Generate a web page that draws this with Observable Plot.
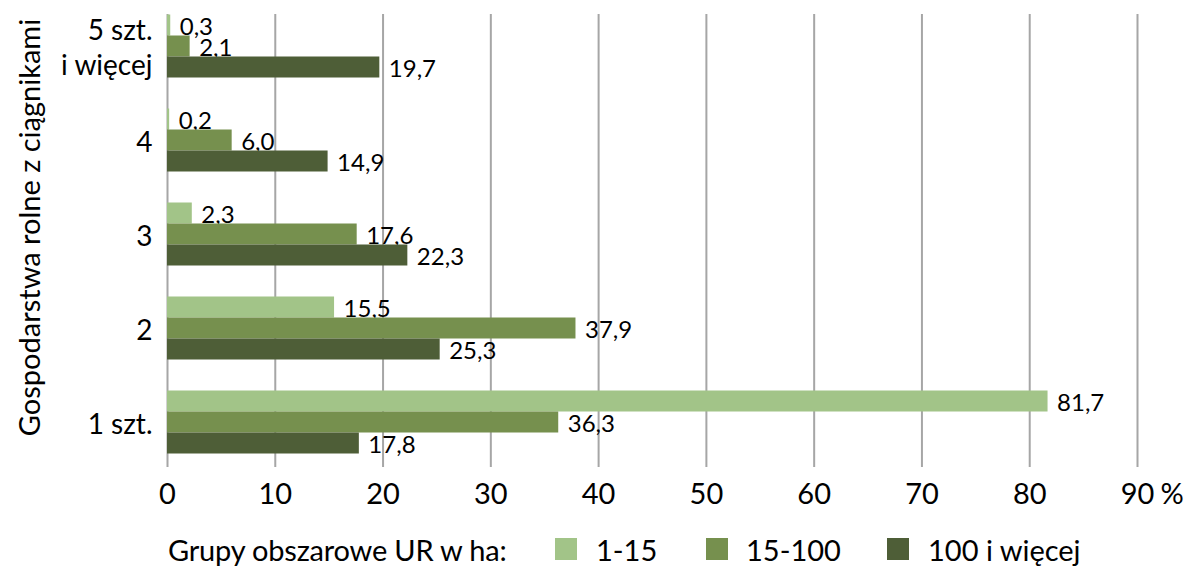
<!DOCTYPE html>
<html>
<head>
<meta charset="utf-8">
<script src="https://cdn.jsdelivr.net/npm/d3@7"></script>
<script src="https://cdn.jsdelivr.net/npm/@observablehq/plot@0.6"></script>
<style>
  html, body { margin: 0; padding: 0; background: #fff; }
  body { width: 1191px; height: 567px; overflow: hidden; font-family: Lato, "Open Sans", sans-serif; color: #000; }
  #legend { position: relative; height: 47px; font-size: 29px; }
  #legend span { position: absolute; top: 50%; transform: translateY(-50%); white-space: nowrap; line-height: 1; }
  #legend .sw { width: 22px; height: 22px; }
</style>
</head>
<body>
<div id="chart"></div>
<div id="legend"></div>
<script>
// Categories (top to bottom)
const categories = ["5 szt.\ni więcej", "4", "3", "2", "1 szt."];
// Series
const seriesNames = ["1-15", "15-100", "100 i więcej"];
const seriesColors = ["#a2c488", "#76904e", "#4e5e37"];
const values_1_15 = [0.3, 0.2, 2.3, 15.5, 81.7];
const values_15_100 = [2.1, 6.0, 17.6, 37.9, 36.3];
const values_100plus = [19.7, 14.9, 22.3, 25.3, 17.8];
const xTicks = [0, 10, 20, 30, 40, 50, 60, 70, 80, 90];
const yTitle = "Gospodarstwa rolne z ciągnikami";
const legendTitle = "Grupy obszarowe UR w ha:";

const seriesValues = [values_1_15, values_15_100, values_100plus];
const rows = [];
seriesNames.forEach((s, j) => categories.forEach((c, i) => rows.push({category: c, series: s, sIndex: j, value: seriesValues[j][i]})));

const fmt = v => v.toFixed(1).replace(".", ",");
const bandInsets = [[15.5, 57.5], [36.5, 36.5], [57.5, 15.5]];
const labelDy = [-19, 2, 23];

const marks = [
  Plot.ruleX(xTicks, {stroke: "#a6a6a6", strokeWidth: 2, insetTop: 14, insetBottom: 3})
];
seriesNames.forEach((s, j) => {
  const data = rows.filter(d => d.sIndex === j);
  marks.push(Plot.barX(data, {x: "value", y: "category", fill: seriesColors[j], insetTop: bandInsets[j][0], insetBottom: bandInsets[j][1]}));
  marks.push(Plot.text(data, {x: "value", y: "category", text: d => fmt(d.value), textAnchor: "start", dx: 9, dy: labelDy[j], fontSize: 24, fill: "#000"}));
});
marks.push(Plot.text(categories, {y: d => d, text: d => d, frameAnchor: "left", textAnchor: "end", dx: -15, dy: 0, lineHeight: 1.25, fontSize: 28, fill: "#000"}));
marks.push(Plot.axisX(xTicks, {tickSize: 0, tickPadding: 13, fontSize: 29, tickFormat: d => String(d), label: null}));
marks.push(Plot.text(["%"], {x: () => 90, frameAnchor: "bottom", textAnchor: "start", lineAnchor: "top", dx: 23, dy: 13, fontSize: 29, fill: "#000"}));
marks.push(Plot.text([yTitle], {text: d => d, frameAnchor: "left", textAnchor: "middle", rotate: -90, dx: -137, dy: -8, fontSize: 29, fill: "#000"}));

const chart = Plot.plot({
  width: 1191,
  height: 520,
  marginTop: 0,
  marginBottom: 50,
  marginLeft: 167,
  marginRight: 54,
  style: {fontFamily: "Lato, 'Open Sans', sans-serif", color: "#000", background: "#fff", overflow: "visible"},
  x: {domain: [0, 90], axis: null},
  y: {domain: categories, range: [-1, 469], padding: 0, axis: null},
  marks
});
document.getElementById("chart").appendChild(chart);

// Legend (HTML, below the SVG)
const legend = document.getElementById("legend");
legend.style.marginTop = "5px";
const t = document.createElement("span");
t.textContent = legendTitle;
t.style.left = "168px";
t.style.letterSpacing = "-0.2px";
legend.appendChild(t);
const swatchLeft = [555, 706, 887];
const labelLeft = [596, 746, 928];
seriesNames.forEach((s, j) => {
  const sw = document.createElement("span");
  sw.className = "sw";
  sw.style.background = seriesColors[j];
  sw.style.left = swatchLeft[j] + "px";
  legend.appendChild(sw);
  const lab = document.createElement("span");
  lab.textContent = s;
  lab.style.left = labelLeft[j] + "px";
  legend.appendChild(lab);
});
</script>
</body>
</html>
